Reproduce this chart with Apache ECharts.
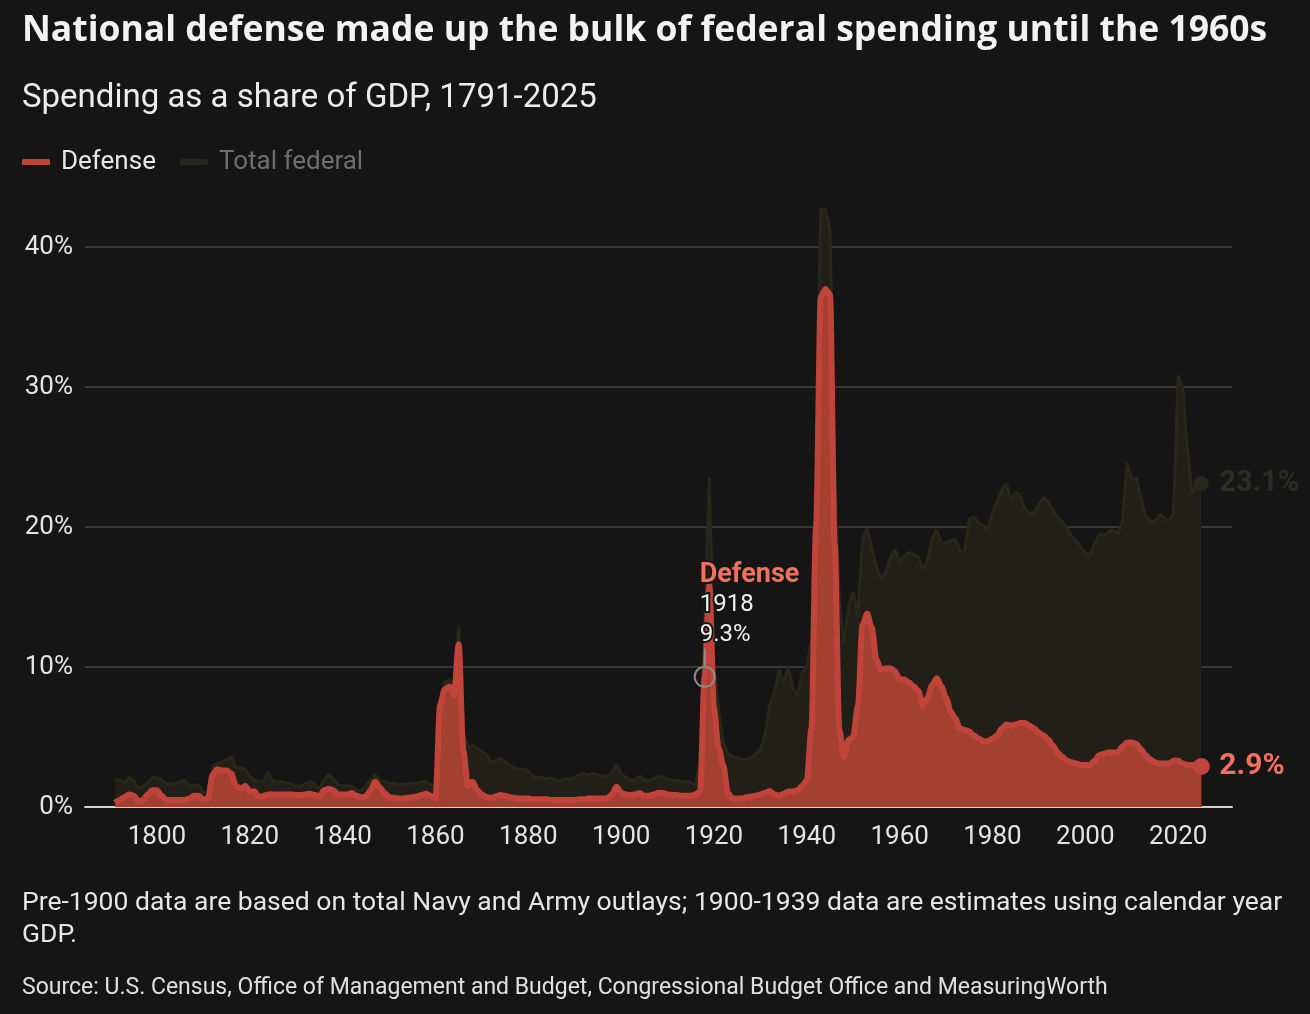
<!DOCTYPE html>
<html>
<head>
<meta charset="utf-8">
<script src="https://cdn.jsdelivr.net/npm/echarts@6/dist/echarts.min.js"></script>
<style>
  html, body { margin: 0; padding: 0; background: #151515; }
  #chart { width: 1310px; height: 1014px; }
</style>
</head>
<body>
<div id="chart"></div>
<script>
// yearly values, % of GDP, starting 1791
var firstYear = 1791;

var defense = [
  0.3, 0.5, 0.7, 0.9, 0.8, 0.4, 0.5, 0.9, 1.2, 1.2,        // 1791-1800
  0.8, 0.5, 0.5, 0.5, 0.5, 0.5, 0.6, 0.8, 0.8, 0.5,        // 1801-1810
  0.6, 2.3, 2.7, 2.6, 2.6, 2.4, 1.5, 1.3, 1.5, 1.1,        // 1811-1820
  1.1, 0.7, 0.8, 0.9, 0.9, 0.9, 0.9, 0.9, 0.9, 0.85,       // 1821-1830
  0.85, 0.9, 0.95, 0.85, 0.75, 1.2, 1.3, 1.2, 0.9, 0.9,    // 1831-1840
  0.9, 1.0, 0.8, 0.7, 0.75, 1.2, 1.8, 1.4, 1.0, 0.7,       // 1841-1850
  0.65, 0.6, 0.6, 0.65, 0.7, 0.75, 0.85, 0.95, 0.8, 0.6,   // 1851-1860
  7.3, 8.4, 8.6, 8.0, 11.6, 4.0, 1.5, 1.8, 1.2, 0.9,       // 1861-1870
  0.7, 0.65, 0.75, 0.85, 0.8, 0.7, 0.65, 0.6, 0.6, 0.6,    // 1871-1880
  0.55, 0.55, 0.55, 0.55, 0.5, 0.5, 0.5, 0.5, 0.5, 0.5,    // 1881-1890
  0.55, 0.55, 0.6, 0.6, 0.6, 0.6, 0.6, 0.9, 1.45, 1.0,     // 1891-1900
  0.9, 0.85, 0.9, 1.0, 0.8, 0.8, 0.9, 1.0, 1.0, 0.9,       // 1901-1910
  0.85, 0.85, 0.8, 0.8, 0.8, 0.9, 1.1, 9.3, 15.8, 7.0,     // 1911-1920
  4.2, 3.0, 1.0, 0.6, 0.6, 0.6, 0.7, 0.75, 0.8, 0.9,       // 1921-1930
  1.0, 1.15, 0.9, 0.8, 0.95, 1.1, 1.1, 1.2, 1.5, 1.9,      // 1931-1940
  5.6, 20.0, 36.4, 37.0, 36.6, 18.8, 5.5, 3.6, 4.8, 5.0,   // 1941-1950
  7.2, 13.0, 13.8, 12.8, 10.5, 9.8, 9.9, 9.9, 9.7, 9.1,    // 1951-1960
  9.1, 8.9, 8.6, 8.3, 7.2, 7.8, 8.7, 9.2, 8.6, 7.8,        // 1961-1970
  6.8, 6.3, 5.6, 5.5, 5.4, 5.1, 4.9, 4.7, 4.7, 4.9,        // 1971-1980
  5.1, 5.6, 5.9, 5.8, 5.9, 6.0, 6.0, 5.8, 5.6, 5.3,        // 1981-1990
  5.1, 4.8, 4.4, 3.9, 3.6, 3.3, 3.2, 3.1, 3.0, 3.0,        // 1991-2000
  3.0, 3.3, 3.7, 3.8, 3.9, 3.9, 3.9, 4.3, 4.6, 4.6,        // 2001-2010
  4.5, 4.1, 3.7, 3.4, 3.2, 3.1, 3.1, 3.1, 3.3, 3.3,        // 2011-2020
  3.1, 3.0, 3.0, 3.0, 2.9                                  // 2021-2025
];

var totalFederal = [
  2.0, 1.9, 1.7, 2.1, 1.9, 1.3, 1.5, 1.7, 2.1, 2.1,        // 1791-1800
  1.9, 1.7, 1.6, 1.7, 1.8, 1.9, 1.5, 1.5, 1.6, 1.0,        // 1801-1810
  1.1, 2.9, 3.1, 3.2, 3.4, 3.6, 2.8, 2.8, 2.7, 2.2,        // 1811-1820
  1.9, 1.8, 1.9, 2.5, 1.8, 1.8, 1.8, 1.7, 1.6, 1.5,        // 1821-1830
  1.5, 1.7, 1.8, 1.6, 1.3, 1.9, 2.3, 2.0, 1.6, 1.5,        // 1831-1840
  1.5, 1.5, 1.2, 1.2, 1.5, 1.9, 2.3, 1.9, 1.8, 1.7,        // 1841-1850
  1.7, 1.6, 1.6, 1.6, 1.7, 1.7, 1.8, 1.8, 1.6, 1.3,        // 1851-1860
  7.6, 8.9, 9.1, 8.5, 13.0, 5.3, 4.3, 4.4, 4.2, 4.0,       // 1861-1870
  3.7, 3.2, 3.3, 3.5, 3.2, 3.0, 2.8, 2.7, 2.7, 2.6,        // 1871-1880
  2.2, 2.1, 2.1, 2.0, 2.1, 1.9, 1.9, 2.0, 2.0, 2.1,        // 1881-1890
  2.3, 2.4, 2.3, 2.4, 2.3, 2.2, 2.2, 2.5, 3.0, 2.4,        // 1891-1900
  2.1, 1.9, 1.9, 2.2, 1.9, 1.9, 2.0, 2.2, 2.1, 2.0,        // 1901-1910
  1.9, 1.9, 1.8, 1.8, 1.8, 1.5, 3.5, 13.0, 23.5, 10.0,     // 1911-1920
  7.0, 4.6, 3.8, 3.6, 3.5, 3.4, 3.4, 3.5, 3.8, 4.1,        // 1921-1930
  5.2, 7.3, 8.2, 9.8, 8.9, 10.0, 8.5, 7.9, 9.6, 10.0,      // 1931-1940
  12.0, 24.3, 42.7, 42.7, 41.2, 24.8, 14.8, 11.6, 14.3, 15.4, // 1941-1950
  13.5, 19.1, 19.9, 18.5, 17.1, 16.3, 16.8, 17.8, 18.4, 17.5, // 1951-1960
  17.9, 18.2, 18.0, 17.9, 16.9, 17.6, 19.2, 19.8, 18.8, 18.9, // 1961-1970
  19.0, 19.1, 18.3, 18.3, 20.6, 20.7, 20.3, 20.1, 19.8, 21.1, // 1971-1980
  21.8, 22.6, 23.1, 21.9, 22.5, 22.2, 21.3, 21.0, 21.0, 21.6, // 1981-1990
  22.1, 21.8, 21.2, 20.7, 20.4, 20.0, 19.4, 19.0, 18.6, 18.1, // 1991-2000
  18.0, 18.8, 19.5, 19.4, 19.6, 19.8, 19.5, 20.4, 24.6, 23.4, // 2001-2010
  23.5, 22.0, 20.8, 20.4, 20.4, 20.9, 20.7, 20.4, 21.0, 30.8, // 2011-2020
  29.8, 25.5, 22.4, 23.0, 23.1                                // 2021-2025
];

var yearTicks = [1800, 1820, 1840, 1860, 1880, 1900, 1920, 1940, 1960, 1980, 2000, 2020];
var highlightYear = 1918;

var FONT = 'Roboto, "Noto Sans", sans-serif';
var TITLE_FONT = '"Open Sans", Roboto, sans-serif';
var BG = '#151515';
var RED = '#c0443a';
var RED_FILL = '#a3402f';
var SALMON = '#f2705e';
var OLIVE = '#29261a';
var OLIVE_FILL = '#211f17';

function toPoints(vals) {
  return vals.map(function (v, i) { return [firstYear + i, v]; });
}

var defPts = toPoints(defense);
var totPts = toPoints(totalFederal);
var defLast = defPts[defPts.length - 1];
var totLast = totPts[totPts.length - 1];
var hiVal = defense[highlightYear - firstYear];

var myChart = echarts.init(document.getElementById('chart'), null, {renderer: 'canvas'});

var option = {
  backgroundColor: BG,
  animation: false,
  title: [
    {
      text: 'National defense made up the bulk of federal spending until the 1960s',
      left: 17, top: 8,
      textStyle: {color: '#f2f2f2', fontSize: 35.5, fontWeight: 'bold', fontFamily: TITLE_FONT}
    },
    {
      text: 'Spending as a share of GDP, 1791-2025',
      left: 17, top: 77,
      textStyle: {color: '#ececec', fontSize: 33, fontWeight: 'normal', fontFamily: FONT}
    },
    {
      text: 'Pre-1900 data are based on total Navy and Army outlays; 1900-1939 data are estimates using calendar year\nGDP.',
      left: 17, top: 882,
      textStyle: {color: '#e6e6e6', fontSize: 26.5, lineHeight: 32, fontWeight: 'normal', fontFamily: FONT}
    },
    {
      text: 'Source: U.S. Census, Office of Management and Budget, Congressional Budget Office and MeasuringWorth',
      left: 17, top: 972,
      textStyle: {color: '#e0e0e0', fontSize: 23, fontWeight: 'normal', fontFamily: FONT}
    }
  ],
  legend: {
    left: 17, top: 144,
    icon: 'roundRect',
    itemWidth: 28, itemHeight: 6, itemGap: 24,
    selectedMode: false,
    textStyle: {color: '#e8e8e8', fontSize: 26, fontFamily: FONT, padding: [0, 0, 0, 6]},
    data: [
      {name: 'Defense'},
      {name: 'Total federal', textStyle: {color: '#6e6e6e'}}
    ]
  },
  grid: {left: 85, right: 78, top: 247, bottom: 207, containLabel: false},
  xAxis: {
    type: 'value',
    min: 1784.5, max: 2031.6,
    splitLine: {show: false},
    axisTick: {show: false},
    axisLine: {show: true, lineStyle: {color: '#d0d0d0', width: 2}},
    axisLabel: {
      customValues: yearTicks,
      color: '#e4e4e4', fontSize: 26, fontFamily: FONT, margin: 17,
      formatter: function (v) { return String(v); }
    }
  },
  yAxis: {
    type: 'value',
    min: 0, max: 40, interval: 10,
    axisLine: {show: false},
    axisTick: {show: false},
    splitLine: {lineStyle: {color: '#383838', width: 2}},
    axisLabel: {
      color: '#e4e4e4', fontSize: 26, fontFamily: FONT, margin: 12,
      formatter: function (v) { return v + '%'; }
    }
  },
  series: [
    {
      name: 'Total federal',
      type: 'line',
      data: totPts,
      clip: false,
      showSymbol: false,
      z: 1,
      color: OLIVE,
      lineStyle: {color: OLIVE, width: 3},
      areaStyle: {color: OLIVE_FILL, opacity: 1},
      endLabel: {
        show: true, distance: 18,
        color: '#2f2c22', fontSize: 29, fontWeight: 'bold', fontFamily: FONT,
        formatter: function (p) { return p.value[1].toFixed(1) + '%'; }
      },
      markPoint: {
        silent: true,
        data: [{
          coord: totLast, symbol: 'circle', symbolSize: 15,
          itemStyle: {color: '#29261b'}, label: {show: false}
        }]
      }
    },
    {
      name: 'Defense',
      type: 'line',
      data: defPts,
      clip: false,
      smooth: 0.3,
      smoothMonotone: 'x',
      showSymbol: false,
      z: 2,
      color: RED,
      lineStyle: {color: RED, width: 6, join: 'round'},
      areaStyle: {color: RED_FILL, opacity: 1},
      endLabel: {
        show: true, distance: 18,
        color: SALMON, fontSize: 30, fontWeight: 'bold', fontFamily: FONT,
        formatter: function (p) { return p.value[1].toFixed(1) + '%'; }
      },
      markLine: {
        silent: true,
        symbol: ['none', 'none'],
        label: {show: false},
        lineStyle: {color: '#8a8a8a', width: 2, type: 'solid'},
        data: [[{coord: [highlightYear, hiVal + 0.75]}, {coord: [highlightYear, hiVal + 2.0]}]]
      },
      markPoint: {
        silent: true,
        data: [
          {
            coord: defLast, symbol: 'circle', symbolSize: 17,
            itemStyle: {color: RED}, label: {show: false}
          },
          {
            coord: [highlightYear, hiVal], symbol: 'circle', symbolSize: 20,
            itemStyle: {color: 'rgba(0,0,0,0)', borderColor: '#8a8a8a', borderWidth: 2},
            label: {
              show: true,
              position: [6, -106],
              align: 'left',
              formatter: '{a|Defense}\n{b|' + highlightYear + '}\n{b|' + hiVal.toFixed(1) + '%}',
              rich: {
                a: {color: SALMON, fontSize: 27, fontWeight: 'bold', fontFamily: FONT, lineHeight: 30,
                    textBorderColor: BG, textBorderWidth: 4},
                b: {color: '#f0f0f0', fontSize: 24, fontFamily: FONT, lineHeight: 30,
                    textBorderColor: BG, textBorderWidth: 4}
              }
            }
          }
        ]
      }
    }
  ]
};

myChart.setOption(option);
</script>
</body>
</html>
